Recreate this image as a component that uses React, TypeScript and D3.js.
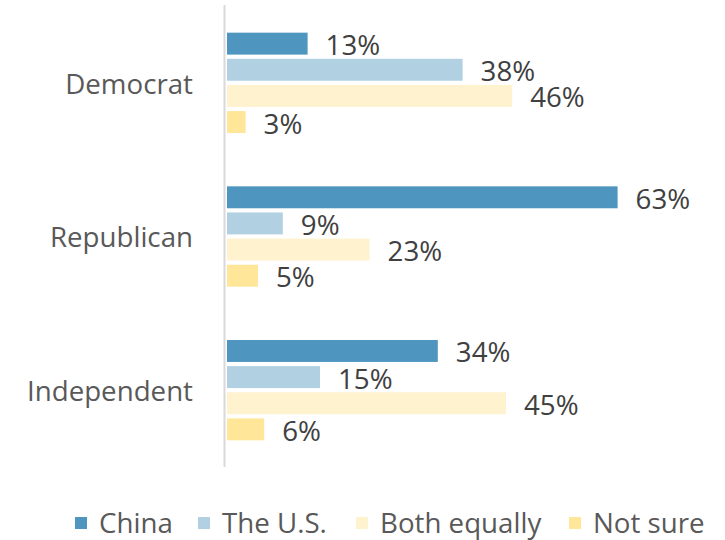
import React, { useEffect, useRef } from "react";
import * as d3 from "d3";

const categories = ["Democrat", "Republican", "Independent"];
const seriesNames = ["China", "The U.S.", "Both equally", "Not sure"];
const china = [13, 63, 34];
const theUS = [38, 9, 15];
const bothEqually = [46, 23, 45];
const notSure = [3, 5, 6];
const seriesColors = ["#4e96bf", "#b1d0e2", "#fff2cf", "#ffe699"];

const W = 725;
const H = 540;
const FONT = "'Open Sans', 'Noto Sans', sans-serif";
const FS = 27.7;
const legendTextX = [99, 222, 380, 593];

export default function App() {
  const ref = useRef<SVGSVGElement | null>(null);

  useEffect(() => {
    const svg = d3.select(ref.current);
    svg.selectAll("*").remove();
    const seriesValues = [china, theUS, bothEqually, notSure];

    const x = d3.scaleLinear().domain([0, 70]).range([227, 227 + 70 * 6.2]);
    const y0 = d3.scaleBand<string>().domain(categories).range([6, 467]).padding(0);
    const y1 = d3
      .scaleBand<string>()
      .domain(seriesNames)
      .range([0, y0.bandwidth()])
      .paddingInner(0.16)
      .paddingOuter(1.02);

    // axis line
    svg
      .append("line")
      .attr("x1", 224.5)
      .attr("x2", 224.5)
      .attr("y1", 5)
      .attr("y2", 467)
      .attr("stroke", "#d9d9d9")
      .attr("stroke-width", 2);

    const g = svg.append("g");
    categories.forEach((cat, ci) => {
      seriesNames.forEach((s, si) => {
        const v = seriesValues[si][ci];
        const yy = (y0(cat) as number) + (y1(s) as number);
        g.append("rect")
          .attr("x", x(0))
          .attr("y", yy)
          .attr("width", x(v) - x(0))
          .attr("height", y1.bandwidth())
          .attr("fill", seriesColors[si]);
        g.append("text")
          .attr("x", x(v) + 18)
          .attr("y", yy + y1.bandwidth() / 2 + 1.5)
          .attr("dy", "0.36em")
          .attr("font-family", FONT)
          .attr("font-size", FS)
          .attr("fill", "#404040")
          .text(v + "%");
      });
      svg
        .append("text")
        .attr("x", 193)
        .attr("y", (y0(cat) as number) + y0.bandwidth() / 2 + 1)
        .attr("dy", "0.36em")
        .attr("text-anchor", "end")
        .attr("font-family", FONT)
        .attr("font-size", FS)
        .attr("fill", "#595959")
        .text(cat);
    });

    // legend
    const lg = svg.append("g");
    seriesNames.forEach((s, si) => {
      lg.append("rect")
        .attr("x", legendTextX[si] - 24)
        .attr("y", 517)
        .attr("width", 12)
        .attr("height", 12)
        .attr("fill", seriesColors[si]);
      lg.append("text")
        .attr("x", legendTextX[si])
        .attr("y", 533)
        .attr("font-family", FONT)
        .attr("font-size", FS)
        .attr("fill", "#595959")
        .text(s);
    });
  }, []);

  return (
    <svg
      ref={ref}
      width={W}
      height={H}
      style={{ position: "absolute", left: 0, top: 0, background: "#fff" }}
    />
  );
}
